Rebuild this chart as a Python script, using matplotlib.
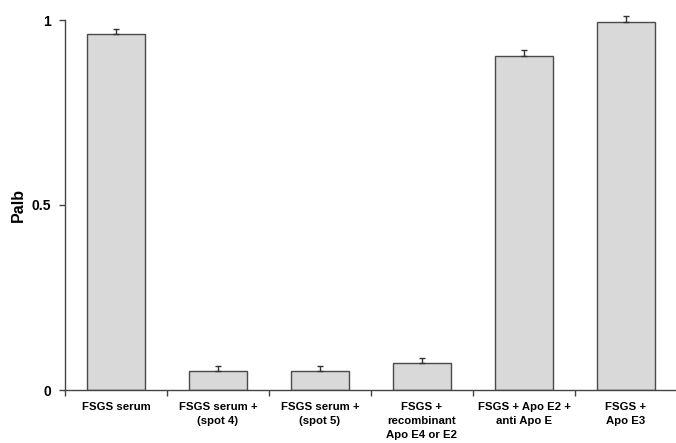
import numpy as np
import matplotlib
matplotlib.use("Agg")
import matplotlib.pyplot as plt

plt.rcParams["font.family"] = ["Liberation Sans", "DejaVu Sans"]

# data
categories = ["FSGS serum", "FSGS serum +\n(spot 4)", "FSGS serum +\n(spot 5)",
              "FSGS +\nrecombinant\nApo E4 or E2", "FSGS + Apo E2 +\nanti Apo E", "FSGS +\nApo E3"]
palb = [0.962, 0.051, 0.051, 0.073, 0.903, 0.995]
errors = [0.014, 0.014, 0.014, 0.014, 0.016, 0.016]
yticks = [0, 0.5, 1]
ytick_labels = ["0", "0.5", "1"]

fig = plt.figure(figsize=(6.76, 4.43), dpi=100)
ax = fig.add_axes([65 / 676, 53 / 443, 612 / 676, 370 / 443])

x = np.arange(len(categories))
ax.bar(x, palb, width=0.56, color="#d9d9d9", edgecolor="#4a4a4a", linewidth=1.0, zorder=2)
ax.errorbar(x, palb, yerr=[np.zeros(len(errors)), errors], fmt="none",
            ecolor="#333333", elinewidth=1.0, capsize=2.5, capthick=1.0, clip_on=False, zorder=3)

ax.set_xlim(-0.5, len(categories) - 0.5)
ax.set_ylim(0, 1.0)

# y axis
ax.set_yticks(yticks)
ax.set_yticklabels(ytick_labels, fontsize=10, fontweight="bold")
ax.set_ylabel("Palb", fontsize=11.5, fontweight="bold", labelpad=4)

# x axis: boundaries ticked, labels centered under bars
ax.set_xticks(np.arange(len(categories) + 1) - 0.5)
ax.set_xticklabels([])
ax.set_xticks(x, minor=True)
ax.set_xticklabels(categories, minor=True, fontsize=8.2, fontweight="bold", linespacing=1.45)
ax.tick_params(axis="x", which="minor", length=0, pad=9)
ax.tick_params(axis="x", which="major", length=4, width=1, color="#444444", direction="out")
ax.tick_params(axis="y", length=4, width=1, color="#444444", pad=6)

for s in ["top", "right"]:
    ax.spines[s].set_visible(False)
for s in ["left", "bottom"]:
    ax.spines[s].set_color("#444444")
    ax.spines[s].set_linewidth(1.0)

fig.savefig("out.png", dpi=100)
